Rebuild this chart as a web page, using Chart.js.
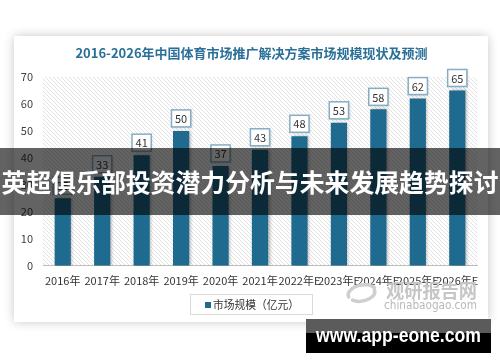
<!DOCTYPE html>
<html><head><meta charset="utf-8">
<script src="https://cdn.jsdelivr.net/npm/chart.js@4"></script>
<style>html,body{margin:0;padding:0;background:#fff;overflow:hidden}</style>
</head><body>
<canvas id="c" width="500" height="362" style="display:block;width:500px;height:362px"></canvas>
<script>
const chartTitle = '2016-2026年中国体育市场推广解决方案市场规模现状及预测';
const categories = ['2016年','2017年','2018年','2019年','2020年','2021年','2022年E','2023年E','2024年E','2025年E','2026年E'];
const marketSize = [25,33,41,50,37,43,48,53,58,62,65];
const seriesName = '市场规模（亿元）';
const yMin = 0, yMax = 70, yStep = 10;
const bannerText = '英超俱乐部投资潜力分析与未来发展趋势探讨';
const siteText = 'www.app-eone.com';
const logoText = '观研报告网';
const logoSub = 'chinabaogao.com';

const CJK = '"Noto Sans CJK SC", "Noto Sans", sans-serif';
const BAR = '#1f6b8f';

function hatch(ctx){
  const s = 4;
  const p = document.createElement('canvas');
  p.width = s; p.height = s;
  const g = p.getContext('2d');
  g.fillStyle = '#ffffff'; g.fillRect(0,0,s,s);
  g.strokeStyle = '#e2e2e2'; g.lineWidth = 1;
  for (const o of [-s,0,s]) { g.beginPath(); g.moveTo(o-1,-1); g.lineTo(o+s+1,s+1); g.stroke(); }
  return ctx.createPattern(p,'repeat');
}

const deco = {
  id:'deco',
  beforeDraw(chart){
    const ctx = chart.ctx, a = chart.chartArea;
    ctx.save();
    ctx.fillStyle = '#ffffff'; ctx.fillRect(0,0,chart.width,chart.height);
    ctx.shadowColor = 'rgba(0,0,0,0.22)'; ctx.shadowBlur = 10;
    ctx.fillStyle = '#ffffff'; ctx.fillRect(14,36,474,286);
    ctx.shadowColor = 'transparent';
    ctx.fillStyle = '#2a6f97';
    ctx.font = 'bold 13px ' + CJK;
    ctx.textAlign = 'center'; ctx.textBaseline = 'middle';
    ctx.fillText(chartTitle, 251.5, 53.5);
    ctx.fillStyle = hatch(ctx);
    ctx.fillRect(a.left, a.top, a.right-a.left, a.bottom-a.top);
    ctx.restore();
  },
  beforeDatasetsDraw(chart){
    const ctx = chart.ctx;
    ctx.save();
    ctx.shadowColor = 'rgba(0,0,0,0.3)'; ctx.shadowBlur = 3; ctx.shadowOffsetX = 1.5; ctx.shadowOffsetY = 0;
  },
  afterDatasetsDraw(chart){
    const ctx = chart.ctx;
    ctx.restore();
    ctx.save();
    const meta = chart.getDatasetMeta(0);
    ctx.font = '11px ' + CJK;
    ctx.textAlign = 'center'; ctx.textBaseline = 'middle';
    meta.data.forEach((bar,i)=>{
      const txt = String(chart.data.datasets[0].data[i]);
      const w = ctx.measureText(txt).width + 7, h = 17;
      const x = bar.x - w/2, y = bar.y - 4 - h;
      ctx.shadowColor = 'rgba(0,0,0,0.18)'; ctx.shadowBlur = 2; ctx.shadowOffsetX = 1; ctx.shadowOffsetY = 1;
      ctx.fillStyle = '#ffffff'; ctx.fillRect(x,y,w,h);
      ctx.shadowColor = 'transparent';
      ctx.strokeStyle = '#86adc4'; ctx.lineWidth = 1.5; ctx.strokeRect(x,y,w,h);
      ctx.fillStyle = '#333333'; ctx.fillText(txt, bar.x, y + h/2 + 0.5);
    });
    ctx.restore();
  },
  afterDraw(chart){
    const ctx = chart.ctx;
    ctx.save();
    // legend
    ctx.fillStyle = '#ffffff'; ctx.fillRect(190,294,123,21);
    ctx.strokeStyle = '#dadada'; ctx.lineWidth = 1; ctx.strokeRect(190.5,294.5,122,20);
    ctx.fillStyle = chart.data.datasets[0].backgroundColor; ctx.fillRect(205,302,6,6);
    ctx.fillStyle = '#333333'; ctx.font = '11.5px ' + CJK;
    ctx.textAlign = 'left'; ctx.textBaseline = 'middle';
    ctx.fillText(chart.data.datasets[0].label, 213, 305, 86);
    // logo watermark
    ctx.strokeStyle = '#cfcfcf'; ctx.lineWidth = 3.5; ctx.lineCap = 'round';
    ctx.beginPath(); ctx.ellipse(362,293,14,8,-0.2,Math.PI*0.95,Math.PI*1.9); ctx.stroke();
    ctx.beginPath(); ctx.ellipse(362,294,13,7,-0.2,Math.PI*-0.05,Math.PI*0.8); ctx.stroke();
    ctx.fillStyle = '#c6c6c6'; ctx.font = 'bold 19px ' + CJK;
    ctx.textBaseline = 'middle';
    ctx.fillText(logoText, 386, 291, 91);
    ctx.fillStyle = '#b8b8b8'; ctx.font = '12.5px "DejaVu Sans", sans-serif';
    ctx.fillText(logoSub, 384, 305.5, 93);
    // banner
    ctx.fillStyle = 'rgba(0,0,0,0.61)'; ctx.fillRect(0,148,500,67);
    ctx.fillStyle = '#ffffff'; ctx.font = 'bold 25px ' + CJK;
    ctx.textAlign = 'center'; ctx.textBaseline = 'middle';
    ctx.fillText(bannerText, 250, 182, 497);
    // site box
    ctx.fillStyle = '#5b5b5b'; ctx.fillRect(306,319,185,14);
    ctx.fillStyle = '#000000'; ctx.fillRect(306,333,185,20);
    ctx.fillStyle = '#ffffff'; ctx.font = 'bold 20.5px "Liberation Sans", Arial, sans-serif';
    ctx.textAlign = 'center'; ctx.textBaseline = 'alphabetic';
    ctx.fillText(siteText, 398.5, 341.8, 165);
    ctx.restore();
  }
};

new Chart(document.getElementById('c'), {
  type:'bar',
  data:{ labels: categories, datasets:[{ label: seriesName, data: marketSize, backgroundColor: BAR, borderWidth:0, categoryPercentage:1, barPercentage:0.41 }]},
  options:{
    responsive:false, animation:false, devicePixelRatio:1,
    layout:{ padding:{ left:0, right:23, top:77, bottom:0 } },
    plugins:{ legend:{display:false}, title:{display:false}, tooltip:{enabled:false} },
    scales:{
      x:{
        grid:{display:false, drawTicks:false},
        border:{display:true, color:'#bdbdbd', width:1},
        ticks:{ autoSkip:false, maxRotation:0, minRotation:0, padding:9, color:'#333333', font:{size:11, family:CJK} },
        afterFit(s){ s.height = 96.3; }
      },
      y:{
        min:yMin, max:yMax,
        grid:{display:false, drawTicks:false},
        border:{display:false},
        ticks:{ stepSize:yStep, padding:10, color:'#404040', font:{size:11, family:CJK} },
        afterFit(s){ s.width = 43; }
      }
    }
  },
  plugins:[deco]
});
</script>
</body></html>
